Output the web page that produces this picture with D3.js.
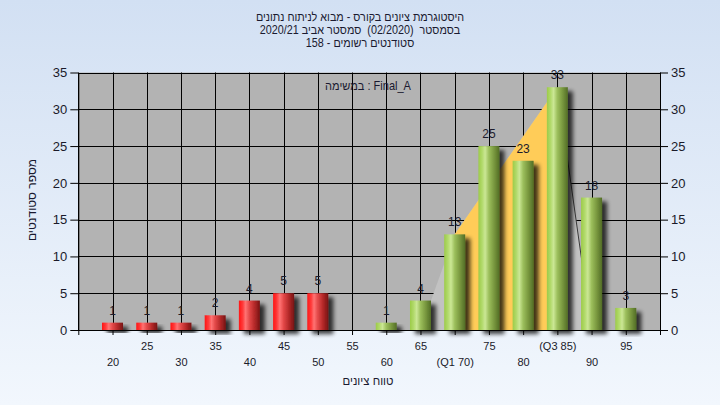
<!DOCTYPE html>
<html><head><meta charset="utf-8">
<script src="https://cdn.jsdelivr.net/npm/d3@7"></script>
<style>body{margin:0;background:#fff;} svg{display:block;font-family:"Liberation Sans",Arial,sans-serif;}</style>
</head><body><svg id="c" width="720" height="405"></svg>
<script>
// ---- data ----
const categories = [20,25,30,35,40,45,50,55,60,65,70,75,80,85,90,95];
const counts     = [1,1,1,2,4,5,5,0,1,4,13,25,23,33,18,3];
const tickLabels = ["20","25","30","35","40","45","50","55","60","65","(Q1 70)","75","80","(Q3 85)","90","95"];
const yTicks     = [0,5,10,15,20,25,30,35];
const quartiles  = [70,85];
const passMark   = 55;
const titleLines = [
  "היסטוגרמת ציונים בקורס - מבוא לניתוח נתונים",
  "בסמסטר  (02/2020)  סמסטר אביב 2020/21",
  "סטודנטים רשומים - 158"
];
const seriesLabel = "במשימה : Final_A";
const xTitle = "טווח ציונים";
const yTitle = "מספר סטודנטים";

// ---- layout ----
const svg = d3.select("#c");
const L = 78.3, R = 660, T = 72.5, B = 330;
const step = 5;
const x = d3.scaleLinear().domain([categories[0]-step, categories[categories.length-1]+step]).range([L, R]);
const y = d3.scaleLinear().domain([0, 35]).range([B, T]);

const defs = svg.append("defs");
const bg = defs.append("linearGradient").attr("id","bg").attr("x1",0).attr("y1",0).attr("x2",0).attr("y2",1);
bg.append("stop").attr("offset","0%").attr("stop-color","#d2e0f3");
bg.append("stop").attr("offset","100%").attr("stop-color","#f2f7fd");

function barGrad(id, stops){
  const g = defs.append("linearGradient").attr("id",id).attr("x1",0).attr("y1",0).attr("x2",1).attr("y2",0);
  stops.forEach(s=>g.append("stop").attr("offset",s[0]).attr("stop-color",s[1]));
}
barGrad("gRed",[["0%","#ff1414"],["18%","#ff3a3a"],["32%","#ff7373"],["50%","#e34848"],["75%","#b32828"],["100%","#761414"]]);
barGrad("gGreen",[["0%","#9ccb48"],["18%","#b2da6c"],["32%","#cbe795"],["50%","#9cbf5c"],["75%","#78973e"],["100%","#526d26"]]);

const f = defs.append("filter").attr("id","sh").attr("x","-30%").attr("y","-30%").attr("width","180%").attr("height","160%");
f.append("feGaussianBlur").attr("in","SourceAlpha").attr("stdDeviation",2).attr("result","b");
f.append("feOffset").attr("in","b").attr("dx",5).attr("dy",4).attr("result","o");
f.append("feComponentTransfer").attr("in","o").attr("result","oa").append("feFuncA").attr("type","linear").attr("slope",0.75);
const m = f.append("feMerge"); m.append("feMergeNode").attr("in","oa"); m.append("feMergeNode").attr("in","SourceGraphic");

svg.append("rect").attr("width",720).attr("height",405).attr("fill","url(#bg)");

// plot background
svg.append("rect").attr("x",L).attr("y",T).attr("width",R-L).attr("height",B-T).attr("fill","#b3b3b3");

// gridlines
const gridX = [x.domain()[0], ...categories, x.domain()[1]];
svg.append("g").selectAll("line").data(gridX).join("line")
  .attr("x1",d=>Math.round(x(d))+0.5).attr("x2",d=>Math.round(x(d))+0.5)
  .attr("y1",T).attr("y2",B).attr("stroke","#000").attr("stroke-width",1);
svg.append("g").selectAll("line").data(yTicks).join("line")
  .attr("y1",d=>Math.round(y(d))+0.5).attr("y2",d=>Math.round(y(d))+0.5)
  .attr("x1",L).attr("x2",R).attr("stroke","#000").attr("stroke-width",1);

// quartile area
const cnt = v => counts[categories.indexOf(v)];
const [q1,q3] = quartiles;
const outer = [[q1-step,0],[q1,cnt(q1)],[q3,cnt(q3)],[q3+step,0]];
const inner = [[q1,0],[q1,cnt(q1)],[q3,cnt(q3)],[q3,0]];
const line = d3.line().x(d=>x(d[0])).y(d=>y(d[1]));
svg.append("path").attr("d",line(outer)+"Z").attr("fill","#c2c2c2");
svg.append("path").attr("d",line(inner)+"Z").attr("fill","#ffcc58");
svg.append("path").attr("d",line([[q3,cnt(q3)],[q3+step,0]])).attr("fill","none").attr("stroke","#3a3a3a").attr("stroke-width",1);

// bars
const data = categories.map((c,i)=>({c, v:counts[i], label:tickLabels[i]}));
const bw = 21;
svg.append("g").selectAll("rect").data(data.filter(d=>d.v>0)).join("rect")
  .attr("x",d=>x(d.c)-bw/2).attr("width",bw)
  .attr("y",d=>y(d.v)).attr("height",d=>B-y(d.v))
  .attr("fill",d=>d.c<passMark?"url(#gRed)":"url(#gGreen)")
  .attr("filter","url(#sh)");

// value labels
svg.append("g").selectAll("text").data(data.filter(d=>d.v>0)).join("text")
  .attr("x",d=>x(d.c)).attr("y",d=>y(d.v)-8)
  .attr("text-anchor","middle").attr("font-size",12).attr("fill","#1c1c2c").text(d=>d.v);

// axes
const yl = svg.append("g").attr("transform",`translate(${L},0)`)
  .call(d3.axisLeft(y).tickValues(yTicks).tickSize(8).tickSizeOuter(0).tickPadding(3));
const yr = svg.append("g").attr("transform",`translate(${R},0)`)
  .call(d3.axisRight(y).tickValues(yTicks).tickSize(8).tickSizeOuter(0).tickPadding(3));
[yl,yr].forEach(g=>{g.selectAll("text").attr("font-size",13).attr("fill","#1a1a2a").attr("font-family","Liberation Sans, Arial, sans-serif");
  g.selectAll("line,path").attr("stroke","#000");});

const xa = svg.append("g").attr("transform",`translate(0,${B})`)
  .call(d3.axisBottom(x).tickValues(gridX).tickSize(5).tickSizeOuter(0)
    .tickFormat(d=>{const i=categories.indexOf(d); return i<0?"":tickLabels[i];}));
xa.selectAll("line,path").attr("stroke","#000");
xa.selectAll("text").attr("font-size",11).attr("fill","#1a1a2a").attr("font-family","Liberation Sans, Arial, sans-serif")
  .attr("dy",null)
  .attr("y",d=>{const i=categories.indexOf(d); return i%2===1?20:36;});

// plot frame
svg.append("rect").attr("x",Math.round(L)+0.5).attr("y",Math.round(T)+0.5)
  .attr("width",Math.round(R)-Math.round(L)).attr("height",Math.round(B)-Math.round(T))
  .attr("fill","none").attr("stroke","#000");

// titles (natural right-to-left text)
svg.append("g").selectAll("text").data(titleLines).join("text")
  .attr("transform",(d,i)=>`translate(360,${21+i*13}) scale(0.9,1)`)
  .attr("text-anchor","middle").attr("direction","rtl").style("white-space","pre")
  .attr("font-size",12).attr("fill","#1a1a30").text(d=>d);

svg.append("text").attr("transform","translate(368,90) scale(0.92,1)").attr("text-anchor","middle").attr("font-size",12)
  .attr("fill","#1a1a30").attr("direction","ltr").text(seriesLabel);

svg.append("text").attr("transform","translate(368,385) scale(0.95,1)").attr("text-anchor","middle").attr("font-size",12)
  .attr("fill","#1a1a30").attr("direction","rtl").text(xTitle);

svg.append("text").attr("transform","translate(36,200) rotate(-90)").attr("text-anchor","middle").attr("font-size",12)
  .attr("fill","#1a1a30").attr("direction","rtl").text(yTitle);
</script></body></html>
